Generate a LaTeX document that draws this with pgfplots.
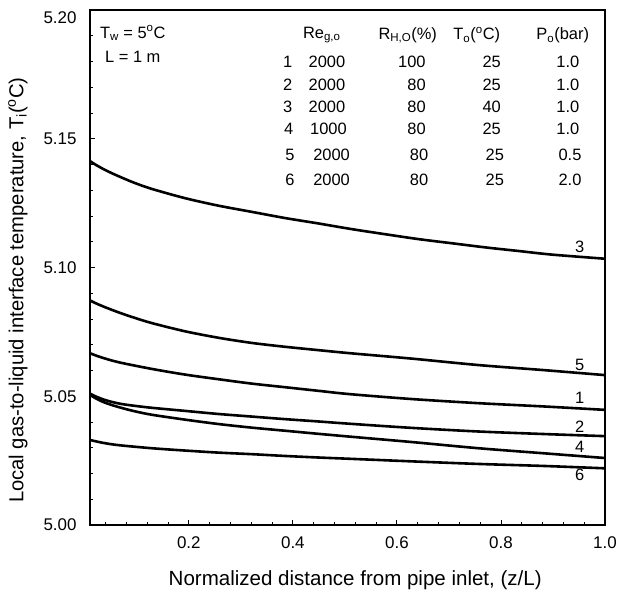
\documentclass[border=0pt]{standalone}
\usepackage{fontspec}
\setmainfont{Liberation Sans}
\usepackage{pgfplots}
\pgfplotsset{compat=1.18}
\usepackage{pgfplotstable}

\pgfplotstableread{
z T
0.010 5.0667
0.030 5.0652
0.065 5.0632
0.129 5.0606
0.193 5.0584
0.257 5.0566
0.321 5.0549
0.385 5.0535
0.449 5.0521
0.510 5.0508
0.629 5.0489
0.757 5.0473
0.885 5.0460
1.000 5.0447
}\curveOne

\pgfplotstableread{
z T
0.010 5.0510
0.020 5.0500
0.035 5.0488
0.050 5.0479
0.070 5.0470
0.095 5.0463
0.129 5.0455
0.193 5.0443
0.257 5.0431
0.321 5.0421
0.385 5.0411
0.449 5.0402
0.510 5.0393
0.629 5.0377
0.757 5.0363
0.885 5.0353
1.000 5.0345
}\curveTwo

\pgfplotstableread{
z T
0.010 5.1413
0.020 5.1400
0.035 5.1383
0.050 5.1368
0.070 5.1350
0.095 5.1329
0.129 5.1305
0.193 5.1269
0.257 5.1240
0.321 5.1216
0.385 5.1192
0.449 5.1171
0.513 5.1149
0.578 5.1129
0.642 5.1110
0.706 5.1094
0.770 5.1078
0.834 5.1064
0.898 5.1050
1.000 5.1034
}\curveThree

\pgfplotstableread{
z T
0.010 5.0505
0.020 5.0493
0.035 5.0478
0.050 5.0467
0.070 5.0455
0.095 5.0442
0.129 5.0428
0.193 5.0409
0.257 5.0392
0.321 5.0378
0.385 5.0366
0.449 5.0354
0.510 5.0343
0.629 5.0322
0.757 5.0298
0.885 5.0278
1.000 5.0260
}\curveFour

\pgfplotstableread{
z T
0.010 5.0872
0.020 5.0862
0.035 5.0849
0.050 5.0837
0.070 5.0822
0.095 5.0805
0.129 5.0784
0.193 5.0752
0.257 5.0727
0.321 5.0707
0.385 5.0692
0.449 5.0679
0.510 5.0667
0.629 5.0646
0.757 5.0621
0.885 5.0601
1.000 5.0582
}\curveFive

\pgfplotstableread{
z T
0.010 5.0330
0.035 5.0319
0.065 5.0310
0.129 5.0298
0.193 5.0289
0.257 5.0281
0.321 5.0275
0.385 5.0268
0.449 5.0262
0.510 5.0257
0.629 5.0247
0.757 5.0237
0.885 5.0229
1.000 5.0220
}\curveSix

\newcommand\tf{\fontsize{16.5}{19}\selectfont}

\begin{document}
\begin{tikzpicture}
\begin{axis}[
  scale only axis,
  width=515bp, height=515bp,
  xmin=0.01, xmax=1.0, ymin=5.0, ymax=5.2,
  clip=false,
  axis line style={line width=1.3bp},
  xtick={0.2,0.4,0.6,0.8,1.0},
  ytick={5.00,5.05,5.10,5.15},
  extra y ticks={5.20},
  extra y tick labels={5.20},
  extra y tick style={yticklabel style={yshift=-8bp}},
  minor xtick={0.04,0.08,0.12,0.16,0.24,0.28,0.32,0.36,0.44,0.48,0.52,0.56,0.64,0.68,0.72,0.76,0.84,0.88,0.92,0.96},
  minor ytick={5.01,5.02,5.03,5.04,5.06,5.07,5.08,5.09,5.11,5.12,5.13,5.14,5.16,5.17,5.18,5.19},
  tick pos=left,
  tick align=inside,
  major tick length=5bp,
  minor tick length=3bp,
  every tick/.style={black, line width=0.9bp},
  /pgf/number format/assume math mode=true,
  ticklabel style={font=\fontsize{17}{19}\selectfont},
  xticklabel style={/pgf/number format/fixed, /pgf/number format/fixed zerofill, /pgf/number format/precision=1, yshift=-8bp},
  yticklabel style={/pgf/number format/fixed, /pgf/number format/fixed zerofill, /pgf/number format/precision=2, xshift=-10bp},
]
\addplot[black, line width=2.6bp, smooth] table[x=z,y=T]{\curveOne};
\addplot[black, line width=2.6bp, smooth] table[x=z,y=T]{\curveTwo};
\addplot[black, line width=2.6bp, smooth] table[x=z,y=T]{\curveThree};
\addplot[black, line width=2.6bp, smooth] table[x=z,y=T]{\curveFour};
\addplot[black, line width=2.6bp, smooth] table[x=z,y=T]{\curveFive};
\addplot[black, line width=2.6bp, smooth] table[x=z,y=T]{\curveSix};

% curve labels
\node[font=\tf, inner sep=0] at (rel axis cs:0.951,0.540) {3};
\node[font=\tf, inner sep=0] at (rel axis cs:0.951,0.311) {5};
\node[font=\tf, inner sep=0] at (rel axis cs:0.951,0.246) {1};
\node[font=\tf, inner sep=0] at (rel axis cs:0.951,0.191) {2};
\node[font=\tf, inner sep=0] at (rel axis cs:0.951,0.152) {4};
\node[font=\tf, inner sep=0] at (rel axis cs:0.951,0.097) {6};

% top-left notes
\node[font=\tf, inner sep=0, anchor=west] at (rel axis cs:0.019,0.955) {T\textsubscript{w} = 5\textsuperscript{o}C};
\node[font=\tf, inner sep=0, anchor=west] at (rel axis cs:0.029,0.909) {L = 1 m};

% table header
\node[font=\tf, inner sep=0] at (rel axis cs:0.450,0.951) {Re\textsubscript{g,o}};
\node[font=\tf, inner sep=0] at (rel axis cs:0.617,0.951) {R\textsubscript{H,O}(\%)};
\node[font=\tf, inner sep=0] at (rel axis cs:0.751,0.951) {T\textsubscript{o}(\textsuperscript{o}C)};
\node[font=\tf, inner sep=0] at (rel axis cs:0.918,0.951) {P\textsubscript{o}(bar)};

% table rows
\node[font=\tf, inner sep=0] at (rel axis cs:0.384,0.900) {1};
\node[font=\tf, inner sep=0] at (rel axis cs:0.460,0.900) {2000};
\node[font=\tf, inner sep=0] at (rel axis cs:0.625,0.900) {100};
\node[font=\tf, inner sep=0] at (rel axis cs:0.780,0.900) {25};
\node[font=\tf, inner sep=0] at (rel axis cs:0.928,0.900) {1.0};

\node[font=\tf, inner sep=0] at (rel axis cs:0.384,0.854) {2};
\node[font=\tf, inner sep=0] at (rel axis cs:0.460,0.854) {2000};
\node[font=\tf, inner sep=0] at (rel axis cs:0.634,0.854) {80};
\node[font=\tf, inner sep=0] at (rel axis cs:0.780,0.854) {25};
\node[font=\tf, inner sep=0] at (rel axis cs:0.928,0.854) {1.0};

\node[font=\tf, inner sep=0] at (rel axis cs:0.384,0.812) {3};
\node[font=\tf, inner sep=0] at (rel axis cs:0.460,0.812) {2000};
\node[font=\tf, inner sep=0] at (rel axis cs:0.634,0.812) {80};
\node[font=\tf, inner sep=0] at (rel axis cs:0.780,0.812) {40};
\node[font=\tf, inner sep=0] at (rel axis cs:0.928,0.812) {1.0};

\node[font=\tf, inner sep=0] at (rel axis cs:0.386,0.770) {4};
\node[font=\tf, inner sep=0] at (rel axis cs:0.463,0.770) {1000};
\node[font=\tf, inner sep=0] at (rel axis cs:0.634,0.770) {80};
\node[font=\tf, inner sep=0] at (rel axis cs:0.780,0.770) {25};
\node[font=\tf, inner sep=0] at (rel axis cs:0.928,0.770) {1.0};

\node[font=\tf, inner sep=0] at (rel axis cs:0.388,0.718) {5};
\node[font=\tf, inner sep=0] at (rel axis cs:0.469,0.718) {2000};
\node[font=\tf, inner sep=0] at (rel axis cs:0.639,0.718) {80};
\node[font=\tf, inner sep=0] at (rel axis cs:0.786,0.718) {25};
\node[font=\tf, inner sep=0] at (rel axis cs:0.932,0.718) {0.5};

\node[font=\tf, inner sep=0] at (rel axis cs:0.388,0.670) {6};
\node[font=\tf, inner sep=0] at (rel axis cs:0.469,0.670) {2000};
\node[font=\tf, inner sep=0] at (rel axis cs:0.639,0.670) {80};
\node[font=\tf, inner sep=0] at (rel axis cs:0.786,0.670) {25};
\node[font=\tf, inner sep=0] at (rel axis cs:0.932,0.670) {2.0};

% axis labels
\node[font=\fontsize{20.3}{22}\selectfont, rotate=90, inner sep=0] at (rel axis cs:-0.140,0.456) {Local gas-to-liquid interface temperature, T\textsubscript{i}(\textsuperscript{o}C)};
\node[font=\fontsize{20.6}{22}\selectfont, inner sep=0] at (rel axis cs:0.515,-0.107) {Normalized distance from pipe inlet, (z/L)};

% page extent
\path (rel axis cs:-0.1748,-0.1398) rectangle (rel axis cs:1.0408,1.0194);
\end{axis}
\end{tikzpicture}
\end{document}
